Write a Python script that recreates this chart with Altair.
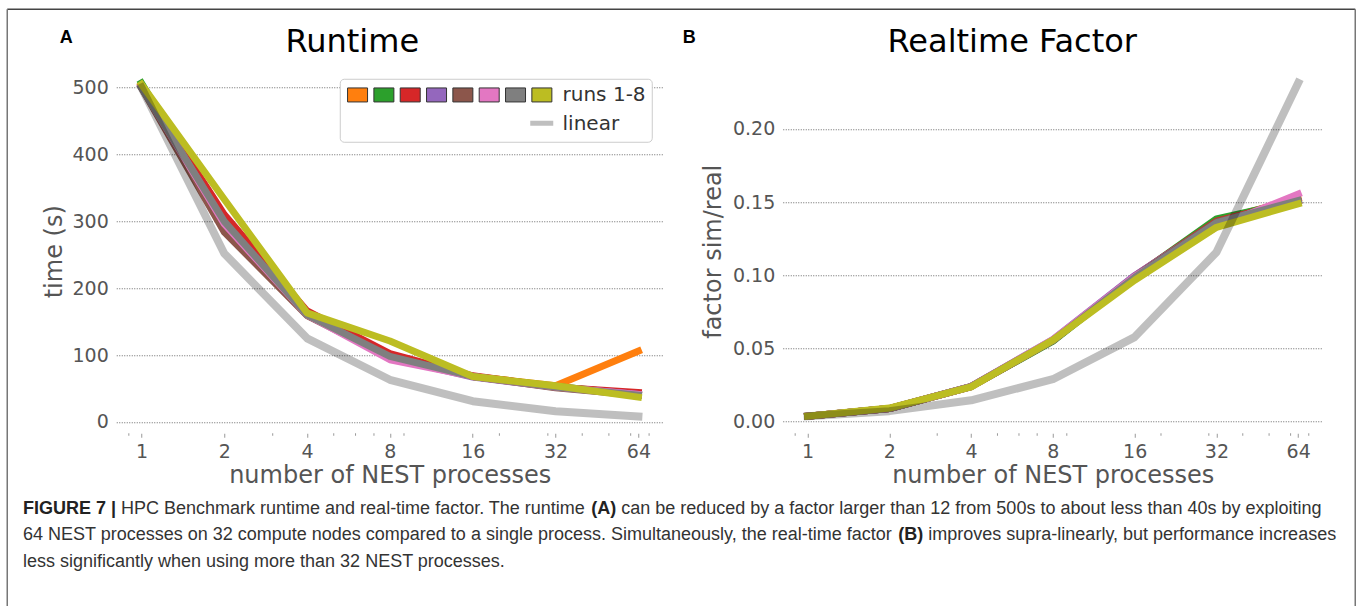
import altair as alt
import pandas as pd

# ---------------- data ----------------
procs = [1, 2, 4, 8, 16, 32, 64]
runs = ["run 1", "run 2", "run 3", "run 4", "run 5", "run 6", "run 7", "run 8"]
run_colors = ["#ff7f0e", "#2ca02c", "#d62728", "#9467bd",
              "#8c564b", "#e377c2", "#7f7f7f", "#bcbd22"]

# runtime (s)
runtime_r1 = [503, 300, 160, 97, 68, 54, 106]
runtime_r2 = [507, 300, 160, 97, 68, 53, 41]
runtime_r3 = [503, 310, 166, 102, 69, 52, 44]
runtime_r4 = [501, 298, 160, 96, 67, 52, 41]
runtime_r5 = [500, 284, 159, 97, 68, 51, 40]
runtime_r6 = [501, 296, 160, 93, 68, 52, 41]
runtime_r7 = [500, 300, 160, 98, 68, 52, 40]
runtime_r8 = [505, 333, 163, 121, 68, 54, 37]
runtime_linear = [500, 252, 125, 63, 31, 16, 8]

# realtime factor (sim/real)
factor_r1 = [0.0037, 0.0090, 0.0240, 0.0555, 0.0990, 0.1370, 0.1525]
factor_r2 = [0.0037, 0.0090, 0.0240, 0.0550, 0.0990, 0.1385, 0.1510]
factor_r3 = [0.0037, 0.0090, 0.0240, 0.0555, 0.0995, 0.1370, 0.1510]
factor_r4 = [0.0037, 0.0090, 0.0241, 0.0562, 0.0998, 0.1360, 0.1510]
factor_r5 = [0.0037, 0.0090, 0.0240, 0.0555, 0.0990, 0.1365, 0.1505]
factor_r6 = [0.0037, 0.0090, 0.0240, 0.0562, 0.0992, 0.1330, 0.1555]
factor_r7 = [0.0037, 0.0090, 0.0240, 0.0555, 0.0985, 0.1360, 0.1510]
factor_r8 = [0.0038, 0.0093, 0.0238, 0.0557, 0.0966, 0.1328, 0.1488]
factor_linear = [0.0037, 0.0072, 0.0146, 0.0290, 0.0578, 0.1157, 0.2314]

minor_ticks = [0.9, 3, 5, 6, 7, 9, 20, 30, 40, 50, 60, 70]

runtime_ticks = [0, 100, 200, 300, 400, 500]
factor_ticks = [0, 0.05, 0.10, 0.15, 0.20]

caption_line1 = ["FIGURE 7 |", "HPC Benchmark runtime and real-time factor. The runtime", "(A)",
                 "can be reduced by a factor larger than 12 from 500s to about less than 40s by exploiting"]
caption_line2 = ["64 NEST processes on 32 compute nodes compared to a single process. Simultaneously, the real-time factor",
                 "(B)", "improves supra-linearly, but performance increases"]
caption_line3 = "less significantly when using more than 32 NEST processes."

# ---------------- helpers ----------------
W_A, W_B, H = 547, 540, 367
AX_GRAY = "#555555"
ONE = pd.DataFrame({"a": [0]})


def long_df(series):
    rows = []
    for run, vals in zip(runs, series):
        for p, v in zip(procs, vals):
            rows.append({"procs": p, "value": v, "run": run})
    return pd.DataFrame(rows)


def text(t, x, y, size, weight="normal", color="black", align="left",
         baseline="middle", font="DejaVu Sans"):
    return alt.Chart(pd.DataFrame({"t": [t]})).mark_text(
        fontSize=size, fontWeight=weight, color=color, align=align,
        baseline=baseline, font=font
    ).encode(x=alt.value(x), y=alt.value(y), text="t:N")


def rule(x, y, x2, y2, color, width, opacity=1.0):
    return alt.Chart(ONE).mark_rule(color=color, strokeWidth=width, opacity=opacity).encode(
        x=alt.value(x), y=alt.value(y), x2=alt.value(x2), y2=alt.value(y2))


def panel(run_series, lin_vals, ydomain, yvalues, yformat, ytitle, ytitle_x):
    x_enc = alt.X(
        "procs:Q",
        scale=alt.Scale(type="log", base=2, domain=[0.81, 78.8], nice=False),
        axis=alt.Axis(values=procs, format="d", title="number of NEST processes",
                      labelFontSize=19, labelColor=AX_GRAY, labelFont="DejaVu Sans",
                      labelFlush=False, labelOverlap=False, labelPadding=5,
                      tickSize=4, tickColor="#999999", tickWidth=1, domain=False, grid=False,
                      titleFontSize=24, titleFont="DejaVu Sans", titleFontWeight="normal",
                      titleColor=AX_GRAY, titleY=42, titleBaseline="middle"),
    )
    y_enc = alt.Y(
        "value:Q",
        scale=alt.Scale(domain=ydomain, nice=False, zero=False),
        axis=alt.Axis(values=yvalues, format=yformat, title=ytitle,
                      labelFontSize=19, labelColor=AX_GRAY, labelFont="DejaVu Sans",
                      labelPadding=8, ticks=False, domain=False,
                      grid=True, gridColor="#444444", gridDash=[1, 1.5], gridWidth=0.8,
                      titleFontSize=24, titleFont="DejaVu Sans", titleFontWeight="normal",
                      titleColor=AX_GRAY, titleX=ytitle_x, titleY=185, titleBaseline="middle"),
    )
    lines = alt.Chart(long_df(run_series)).mark_line(
        strokeWidth=7, strokeCap="square", strokeJoin="round"
    ).encode(
        x=x_enc, y=y_enc,
        color=alt.Color("run:N", scale=alt.Scale(domain=runs, range=run_colors), legend=None),
    )
    lin = alt.Chart(pd.DataFrame({"procs": procs, "value": lin_vals})).mark_line(
        color="black", opacity=0.25, strokeWidth=8, strokeCap="square", strokeJoin="round"
    ).encode(x=x_enc, y=y_enc)
    minor = alt.Chart(pd.DataFrame({"procs": minor_ticks, "value": [ydomain[0]] * len(minor_ticks)})).mark_rule(
        color="#999999", strokeWidth=1
    ).encode(x=x_enc, y=alt.value(H), y2=alt.value(H + 2.5))
    return [lines, lin, minor]


# ---------------- panel A ----------------
a_layers = panel([runtime_r1, runtime_r2, runtime_r3, runtime_r4,
                  runtime_r5, runtime_r6, runtime_r7, runtime_r8],
                 runtime_linear, [-17, 532], runtime_ticks, "d", "time (s)", -62)

a_layers.append(text("Runtime", 236, -24, 32, align="center"))
a_layers.append(text("A", -50, -28, 18, weight="bold", align="center", font="Liberation Sans"))

# legend
a_layers.append(alt.Chart(ONE).mark_rect(fill="white", stroke="#cccccc", strokeWidth=1,
                                          cornerRadius=4).encode(
    x=alt.value(224), x2=alt.value(536), y=alt.value(13), y2=alt.value(76)))
for i, c in enumerate(run_colors):
    x0 = 231.3 + i * 26.33
    a_layers.append(alt.Chart(ONE).mark_rect(fill=c, stroke="#333333", strokeWidth=1).encode(
        x=alt.value(x0), x2=alt.value(x0 + 20), y=alt.value(21.7), y2=alt.value(35.7)))
a_layers.append(text("runs 1-8", 446.3, 29, 20, color="#333333"))
a_layers.append(rule(414, 57, 437, 57, "#bfbfbf", 5))
a_layers.append(text("linear", 446.3, 58, 20, color="#333333"))

# frame (page coords minus A origin 116,66)
a_layers.append(rule(-109, -57, 1239, -57, "#444444", 1.5))
a_layers.append(rule(-109, -57, -109, 540, "#777777", 1.5))
a_layers.append(rule(1239, -57, 1239, 540, "#777777", 1.5))

# caption
FS = 18
X0 = 22.7 - 116
cap_font = "Liberation Sans"
a_layers.append(text(caption_line1[0], X0, 443, FS, weight="bold", color="#222222", font=cap_font))
a_layers.append(text(caption_line1[1], X0 + 5.448 * FS, 443, FS, color="#333333", font=cap_font))
a_layers.append(text(caption_line1[2], X0 + 31.567 * FS, 443, FS, weight="bold", color="#222222", font=cap_font))
a_layers.append(text(caption_line1[3], X0 + 33.233 * FS, 443, FS, color="#333333", font=cap_font))
a_layers.append(text(caption_line2[0], X0, 469, FS, color="#333333", font=cap_font))
a_layers.append(text(caption_line2[1], X0 + 48.632 * FS, 469, FS, weight="bold", color="#222222", font=cap_font))
a_layers.append(text(caption_line2[2], X0 + 50.298 * FS, 469, FS, color="#333333", font=cap_font))
a_layers.append(text(caption_line3, X0, 496, FS, color="#333333", font=cap_font))

chart_a = alt.layer(*a_layers).properties(width=W_A, height=H)

# ---------------- panel B ----------------
b_layers = panel([factor_r1, factor_r2, factor_r3, factor_r4,
                  factor_r5, factor_r6, factor_r7, factor_r8],
                 factor_linear, [-0.0079, 0.2428], factor_ticks, ".2f", "factor sim/real", -69.5)
b_layers.append(text("Realtime Factor", 229.5, -24, 32, align="center"))
b_layers.append(text("B", -93.5, -28, 18, weight="bold", align="center", font="Liberation Sans"))

chart_b = alt.layer(*b_layers).properties(width=W_B, height=H)

chart = alt.hconcat(chart_a, chart_b, spacing=119.5, bounds="flush").properties(
    padding={"left": 6.25, "top": 8.25, "right": 0, "bottom": 0}
).configure_view(stroke=None)

chart.save("out.html", embed_options={"renderer": "svg", "actions": False})
